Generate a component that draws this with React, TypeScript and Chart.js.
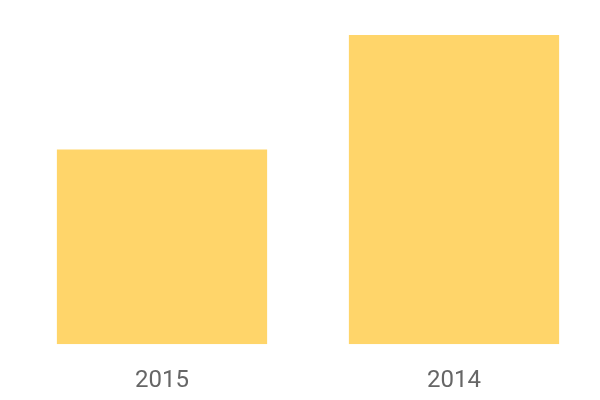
import React, { useEffect, useRef } from "react";
import { Chart, registerables } from "chart.js";

Chart.register(...registerables);

const categories = ["2015", "2014"];
const values = [630, 1000];
const barColor = "#FFD56A";

export default function App() {
  const ref = useRef<HTMLCanvasElement | null>(null);
  useEffect(() => {
    if (!ref.current) return;
    const chart = new Chart(ref.current, {
      type: "bar",
      data: {
        labels: categories,
        datasets: [
          {
            data: values,
            backgroundColor: barColor,
            borderWidth: 0,
            categoryPercentage: 0.9,
            barPercentage: 0.8,
          },
        ],
      },
      options: {
        animation: false,
        responsive: false,
        maintainAspectRatio: false,
        layout: { padding: { left: 16, right: 0, top: 35, bottom: 0 } },
        plugins: { legend: { display: false }, tooltip: { enabled: false } },
        scales: {
          x: {
            grid: { display: false, drawTicks: false },
            border: { display: false },
            ticks: {
              color: "#666666",
              padding: 22,
              font: { family: "Roboto", size: 24 },
            },
          },
          y: {
            display: false,
            min: 0,
            max: 1000,
          },
        },
      },
    });
    return () => chart.destroy();
  }, []);
  return (
    <div style={{ position: "fixed", left: 0, top: 0, width: 600, height: 400, overflow: "hidden", background: "#fff" }}>
      <canvas ref={ref} width={600} height={417} style={{ display: "block" }} />
    </div>
  );
}
